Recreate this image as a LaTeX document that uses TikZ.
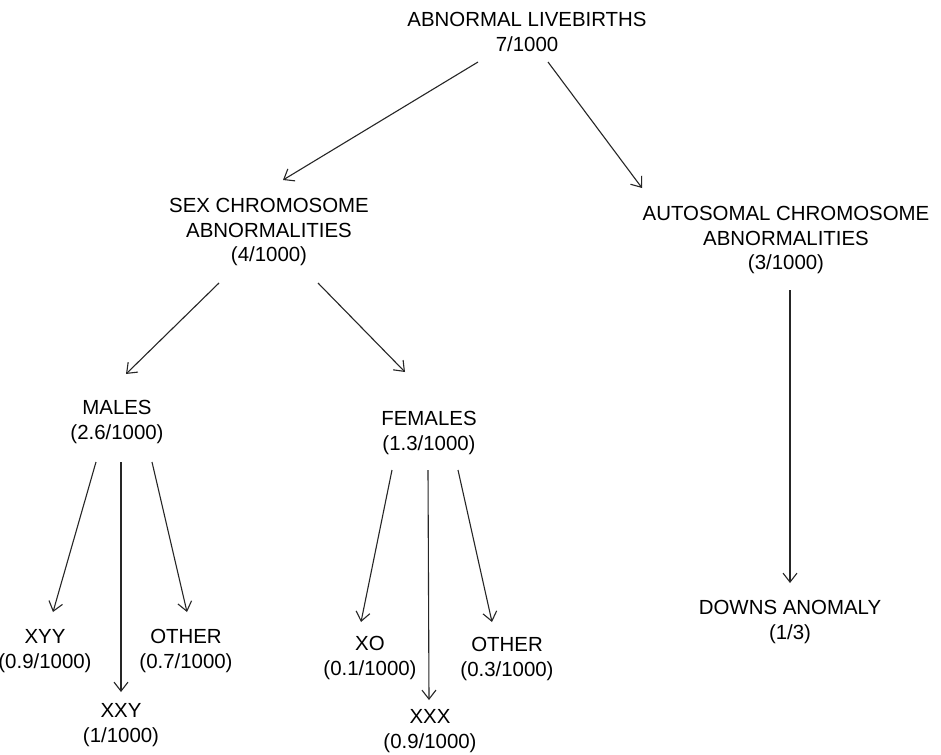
\documentclass[tikz,border=0pt]{standalone}
\usepackage{fontspec}
\setmainfont{Liberation Sans}
\usetikzlibrary{arrows.meta}
\begin{document}
\begin{tikzpicture}[x=1bp,y=-1bp,
  lbl/.style={align=center,inner sep=0pt,font=\fontsize{20.5}{24.5}\selectfont},
  arr/.style={draw=black!85,line width=1.1bp,-{Straight Barb[length=9bp,width=14bp,line width=1.1bp]}}]
\useasboundingbox[fill=white] (0,0) rectangle (941,755);
\node[lbl] (top) at (527,32) {ABNORMAL LIVEBIRTHS\\7/1000};
\node[lbl] (sex) at (269,232) {SEX CHROMOSOME\\ABNORMALITIES\\(4/1000)};
\node[lbl] (auto) at (786,240) {AUTOSOMAL CHROMOSOME\\ABNORMALITIES\\(3/1000)};
\node[lbl] (males) at (117,422) {MALES\\(2.6/1000)};
\node[lbl] (females) at (429,433) {FEMALES\\(1.3/1000)};
\node[lbl] (downs) at (790,622) {DOWNS ANOMALY\\(1/3)};
\node[lbl] (xyy) at (45,651) {XYY\\(0.9/1000)};
\node[lbl] (oth1) at (186,651) {OTHER\\(0.7/1000)};
\node[lbl] (xxy) at (121,725) {XXY\\(1/1000)};
\node[lbl] (xo) at (370,658) {XO\\(0.1/1000)};
\node[lbl] (oth2) at (507,659) {OTHER\\(0.3/1000)};
\node[lbl] (xxx) at (430,731) {XXX\\(0.9/1000)};
\draw[arr] ([shift={(-49,30)}]top.center) -- ([shift={(14,-52)}]sex.center);
\draw[arr] ([shift={(21,30)}]top.center) -- ([shift={(-144,-52)}]auto.center);
\draw[arr] ([shift={(-50,51)}]sex.center) -- ([shift={(9,-48)}]males.center);
\draw[arr] ([shift={(49,51)}]sex.center) -- ([shift={(-24,-61)}]females.center);
\draw[arr] ([shift={(-21,40)}]males.center) -- ([shift={(8,-39)}]xyy.center);
\draw[arr] ([shift={(4,40)}]males.center) -- ([shift={(0,-33)}]xxy.center);
\draw[arr] ([shift={(35,40)}]males.center) -- ([shift={(1,-39)}]oth1.center);
\draw[arr] ([shift={(-37,37)}]females.center) -- ([shift={(-9,-36)}]xo.center);
\draw[arr] ([shift={(-1,37)}]females.center) -- ([shift={(-1,-31)}]xxx.center);
\draw[arr] ([shift={(29,37)}]females.center) -- ([shift={(-15,-37)}]oth2.center);
\draw[arr] ([shift={(4,50)}]auto.center) -- ([shift={(0,-39)}]downs.center);
\end{tikzpicture}
\end{document}
